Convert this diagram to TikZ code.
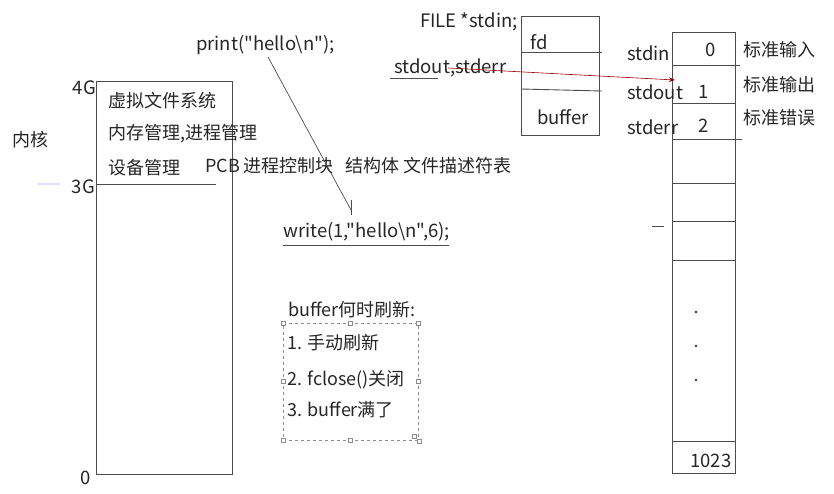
\documentclass[tikz,border=0pt]{standalone}
\usepackage{fontspec}
\newfontfamily\plainfont{Noto Sans CJK SC}
\usetikzlibrary{arrows.meta}
\begin{document}
\begin{tikzpicture}[x=1pt,y=-1pt,
  ln/.style={draw=black!70, line width=0.9pt},
  txt/.style={anchor=west, inner sep=0pt, text=black!85, font=\plainfont\fontsize{18.5}{21}\selectfont},
  cjk/.style={anchor=west, inner sep=0pt, text=black!85, font=\plainfont\fontsize{18}{21}\selectfont},
  boxx/.style={ln, inner sep=0pt, outer sep=0pt, anchor=north west},
  handle/.style={draw=black!45, fill=white, line width=0.5pt, minimum size=4pt, inner sep=0pt}]
\useasboundingbox (0,0) rectangle (834,493);
% kernel box
\node[boxx, minimum width=136pt, minimum height=393pt] (kbox) at (96,81) {};
\coordinate (l3a) at (96,184); \coordinate (l3b) at (216,184);
\draw[ln] (l3a) -- (l3b);
\coordinate (fa) at (37,184); \coordinate (fb) at (60,184);
\draw[blue!12, line width=1.5pt] (fa) -- (fb);
\node[cjk] (nh) at (12,140) {内核};
\node[txt, anchor=east] (g4) at (96,88) {4G};
\node[txt, anchor=east] (g3) at (95,187) {3G};
\node[txt, anchor=east] (g0) at (91,478) {0};
\node[cjk] (vfs) at (108,101) {虚拟文件系统};
\node[cjk] (mem) at (108,134) {内存管理,进程管理};
\node[cjk] (dev) at (108,168) {设备管理};
\node[cjk] (pcb) at (205,166) {PCB 进程控制块\hspace{12pt}结构体 文件描述符表};
% print / write
\node[txt] (prt) at (196,45) {print("hello\textbackslash n");};
\node[txt] (wrt) at (283,232) {write(1,"hello\textbackslash n",6);};
\coordinate (pa) at (268,57); \coordinate (pb) at (351,210);
\draw[ln, line width=0.7pt] (pa) -- (pb);
\coordinate (ta) at (351,200); \coordinate (tb) at (351,215);
\draw[ln, line width=0.7pt] (ta) -- (tb);
\coordinate (wa) at (283,245); \coordinate (wb) at (449,245);
\draw[ln] (wa) -- (wb);
% FILE struct
\node[boxx, minimum width=78pt, minimum height=119pt] (fbox) at (521,16) {};
\coordinate (f1a) at (521,52); \coordinate (f1b) at (602,52);
\coordinate (f2a) at (521,89); \coordinate (f2b) at (602,91);
\draw[ln] (f1a) -- (f1b);
\draw[ln] (f2a) -- (f2b);
\node[txt] (fd) at (530,42) {fd};
\node[txt] (buf) at (537,117) {buffer};
\node[txt] (fst) at (420,22) {FILE *stdin;};
\node[txt] (soe) at (394,68) {stdout,stderr};
\coordinate (ua) at (390,78); \coordinate (ub) at (438,78);
\draw[ln] (ua) -- (ub);
% fd table
\node[boxx, minimum width=63pt, minimum height=441pt] (tbl) at (672,32) {};
\foreach \yy/\xe in {65/740,103/735,139/742,183/735,221/735,260/735,441/735}{
  \draw[ln] (672,\yy) -- (\xe,\yy);
}
\coordinate (da) at (652,226); \coordinate (db) at (664,226);
\draw[ln] (da) -- (db);
\node[txt] (sin) at (627,53) {stdin};
\node[txt] (n0) at (705,50) {0};
\node[txt] (sout) at (627,92) {stdout};
\node[txt] (n1) at (698,92) {1};
\node[txt] (serr) at (627,127) {stderr};
\node[txt] (n2) at (698,126) {2};
\node[cjk] (r0) at (743,50) {标准输入};
\node[cjk] (r1) at (743,85) {标准输出};
\node[cjk] (r2) at (743,118) {标准错误};
\foreach \yy in {312,346,380}{ \fill[black!80] (696,\yy) circle (1.3pt); }
\node[txt] (n1023) at (690,461) {1023};
% red arrow
\coordinate (ra) at (448,68); \coordinate (rb) at (675,80);
\draw[red!60!black, line width=0.6pt, -{Stealth[length=6pt]}] (ra) -- (rb);
% buffer flush box
\node[cjk] (bt) at (288,310) {buffer何时刷新:};
\node[draw=black!45, dashed, line width=0.6pt, inner sep=0pt, anchor=north west, minimum width=135pt, minimum height=117pt] (dbox) at (283,323) {};
\foreach \hx/\hy in {283/323,350/323,418/323,283/381,418/381,283/440,350/440}{
  \node[handle] at (\hx,\hy) {};
}
\node[handle] at (414,436) {};
\node[handle] at (419,441) {};
\node[cjk] (i1) at (287,343) {1. 手动刷新};
\node[cjk] (i2) at (287,380) {2. fclose()关闭};
\node[cjk] (i3) at (287,410) {3. buffer满了};
\end{tikzpicture}
\end{document}
